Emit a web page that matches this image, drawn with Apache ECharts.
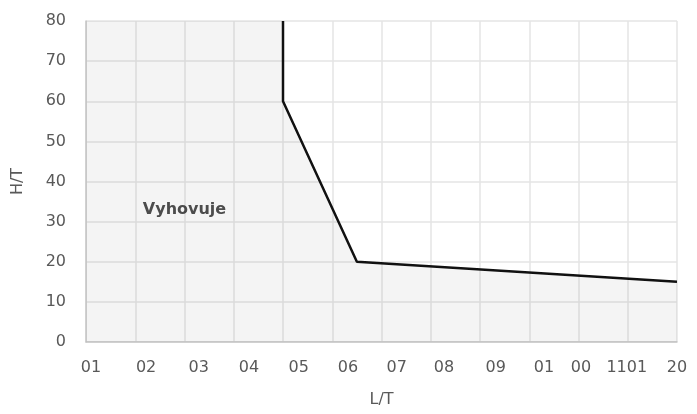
<!DOCTYPE html>
<html>
<head>
<meta charset="utf-8">
<script src="https://cdn.jsdelivr.net/npm/echarts@6/dist/echarts.min.js"></script>
<style>
  html, body { margin: 0; padding: 0; background: #fff; }
  #chart { width: 697px; height: 414px; }
</style>
</head>
<body>
<div id="chart"></div>
<script>
// hranice oblasti (L/T, H/T)
const limitX = [40, 40, 55, 120]
const limitY = [80, 60, 20, 15]
// vyplnena oblast zacina v levem hornim rohu
const areaX = [0, 40, 40, 55, 120]
const areaY = [80, 80, 60, 20, 15]
// popisky osy x tak, jak jsou v obrazku
const xLabels = ['01', '02', '03', '04', '05', '06', '07', '08', '09', '01', '00', '1101', '20']
const xLabelAt = [1, 12.2, 22.9, 33.1, 43.2, 53.2, 63.1, 72.7, 83.2, 93, 100.5, 109.8, 120]
// popisek oblasti
const note = { text: 'Vyhovuje', x: 20, y: 33 }

const font = 'DejaVu Sans'
const labelColor = '#595959'

let myChart = echarts.init(document.getElementById('chart'))
myChart.setOption({
  animation: false,
  grid: { left: 86, right: 20, top: 21, bottom: 72 },
  xAxis: [
    {
      type: 'value',
      min: 0,
      max: 120,
      interval: 10,
      name: 'L/T',
      nameLocation: 'middle',
      nameGap: 50,
      nameTextStyle: { color: labelColor, fontFamily: font, fontSize: 16 },
      axisLine: { show: true, lineStyle: { color: '#c8c8c8', width: 1.5 } },
      axisTick: { show: false },
      splitLine: { show: true, lineStyle: { color: '#e4e4e4', width: 1.5 } },
      axisLabel: { show: false }
    },
    {
      // jen popisky na jejich mistech
      type: 'value',
      position: 'bottom',
      min: 0,
      max: 120,
      axisLine: { show: false },
      axisTick: { show: false },
      splitLine: { show: false },
      axisLabel: {
        customValues: xLabelAt,
        showMinLabel: true,
        showMaxLabel: true,
        hideOverlap: false,
        margin: 18,
        color: labelColor,
        fontFamily: font,
        fontSize: 16,
        formatter: (v) => {
          let i = xLabelAt.findIndex((p) => Math.abs(p - v) < 0.01)
          return i < 0 ? '' : xLabels[i]
        }
      }
    }
  ],
  yAxis: {
    type: 'value',
    min: 0,
    max: 80,
    interval: 10,
    name: 'H/T',
    nameLocation: 'middle',
    nameGap: 60,
    nameTextStyle: { color: labelColor, fontFamily: font, fontSize: 16 },
    axisLine: { show: true, lineStyle: { color: '#c8c8c8', width: 1.5 } },
    axisTick: { show: false },
    splitLine: { show: true, lineStyle: { color: '#e4e4e4', width: 1.5 } },
    axisLabel: { margin: 20, color: labelColor, fontFamily: font, fontSize: 16 }
  },
  series: [
    {
      // seda oblast
      type: 'line',
      data: areaX.map((x, i) => [x, areaY[i]]),
      symbol: 'none',
      lineStyle: { width: 0 },
      areaStyle: { color: 'rgba(0,0,0,0.045)', opacity: 1 },
      z: 1
    },
    {
      // hranice
      type: 'line',
      data: limitX.map((x, i) => [x, limitY[i]]),
      symbol: 'none',
      lineStyle: { color: '#111', width: 2.5 },
      z: 3
    },
    {
      type: 'scatter',
      data: [[note.x, note.y]],
      symbolSize: 0,
      label: {
        show: true,
        position: 'inside',
        formatter: note.text,
        color: '#222',
        fontFamily: font,
        fontSize: 16,
        fontWeight: 'bold'
      },
      z: 4
    }
  ]
})
</script>
</body>
</html>
